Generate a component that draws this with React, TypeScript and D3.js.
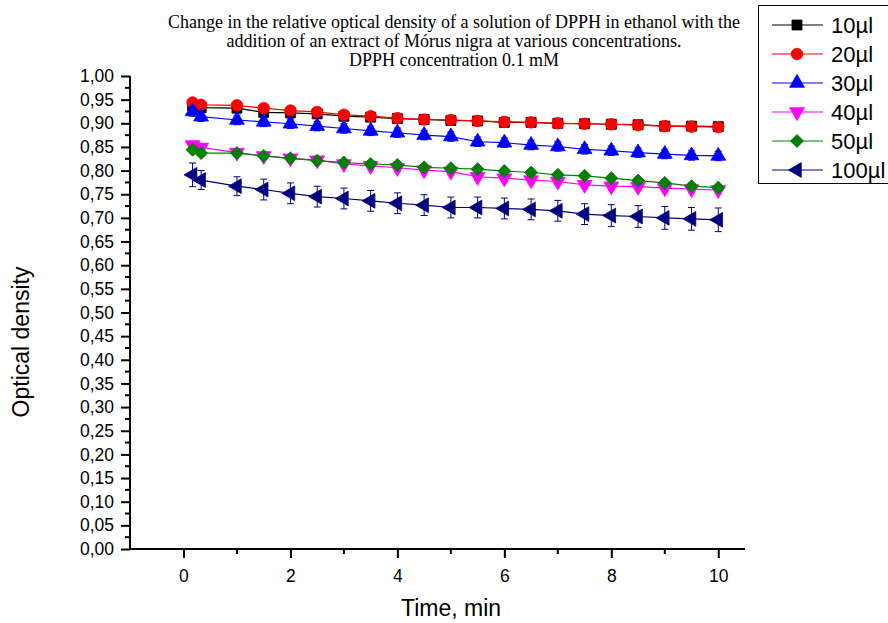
import React, { useEffect, useRef } from "react";
import * as d3 from "d3";

// sampling times, min
const time = [0.17, 0.33, 1, 1.5, 2, 2.5, 3, 3.5, 4, 4.5, 5, 5.5, 6, 6.5, 7, 7.5, 8, 8.5, 9, 9.5, 10];

const od10 = [0.937, 0.933, 0.932, 0.923, 0.922, 0.92, 0.915, 0.913, 0.91, 0.908, 0.906, 0.905, 0.902, 0.902, 0.9, 0.899, 0.898, 0.897, 0.894, 0.894, 0.893];
const od20 = [0.944, 0.939, 0.938, 0.932, 0.927, 0.924, 0.918, 0.915, 0.911, 0.908, 0.907, 0.905, 0.903, 0.902, 0.9, 0.899, 0.898, 0.896, 0.894, 0.893, 0.892];
const od30 = [0.925, 0.914, 0.907, 0.903, 0.899, 0.894, 0.889, 0.884, 0.88, 0.875, 0.872, 0.861, 0.859, 0.854, 0.851, 0.845, 0.842, 0.838, 0.835, 0.832, 0.831];
const od40 = [0.854, 0.849, 0.838, 0.831, 0.826, 0.822, 0.814, 0.81, 0.806, 0.801, 0.798, 0.787, 0.784, 0.78, 0.777, 0.77, 0.767, 0.766, 0.763, 0.761, 0.759];
const od50 = [0.844, 0.837, 0.837, 0.831, 0.826, 0.821, 0.817, 0.814, 0.812, 0.807, 0.805, 0.803, 0.799, 0.796, 0.791, 0.789, 0.784, 0.779, 0.774, 0.767, 0.764];
const od100 = [0.791, 0.78, 0.767, 0.76, 0.752, 0.745, 0.741, 0.736, 0.731, 0.727, 0.722, 0.722, 0.72, 0.718, 0.715, 0.708, 0.705, 0.703, 0.7, 0.698, 0.696];

// standard deviations
const err10 = [0.005, 0.005, 0.005, 0.005, 0.005, 0.005, 0.005, 0.005, 0.005, 0.005, 0.005, 0.005, 0.005, 0.005, 0.005, 0.005, 0.005, 0.005, 0.005, 0.005, 0.005];
const err20 = [0.005, 0.005, 0.005, 0.005, 0.005, 0.005, 0.005, 0.005, 0.005, 0.005, 0.005, 0.005, 0.005, 0.005, 0.005, 0.005, 0.005, 0.005, 0.005, 0.005, 0.005];
const err30 = [0.01, 0.01, 0.01, 0.01, 0.01, 0.01, 0.01, 0.01, 0.01, 0.01, 0.01, 0.01, 0.01, 0.01, 0.01, 0.01, 0.01, 0.01, 0.01, 0.01, 0.01];
const err40 = [0.008, 0.008, 0.008, 0.008, 0.008, 0.008, 0.008, 0.008, 0.008, 0.008, 0.008, 0.008, 0.008, 0.008, 0.008, 0.008, 0.008, 0.008, 0.008, 0.008, 0.008];
const err50 = [0.006, 0.006, 0.006, 0.006, 0.006, 0.006, 0.006, 0.006, 0.006, 0.006, 0.006, 0.006, 0.006, 0.006, 0.006, 0.006, 0.006, 0.006, 0.006, 0.006, 0.006];
const err100 = [0.025, 0.02, 0.02, 0.022, 0.022, 0.022, 0.022, 0.022, 0.022, 0.022, 0.022, 0.022, 0.022, 0.022, 0.022, 0.022, 0.023, 0.023, 0.024, 0.024, 0.025];

const labels = ["10µl", "20µl", "30µl", "40µl", "50µl", "100µl"];
const colors = ["#000000", "#ff0000", "#0000ff", "#ff00ff", "#008000", "#000080"];

const titleLines = [
  "Change in the relative optical density of a solution of DPPH in ethanol with the",
  "addition of an extract of Mórus nigra at various concentrations.",
  "DPPH concentration 0.1 mM",
];

const series = [
  { name: labels[0], values: od10, errors: err10, color: colors[0], shape: d3.symbolSquare, size: 100, rotate: 0 },
  { name: labels[1], values: od20, errors: err20, color: colors[1], shape: d3.symbolCircle, size: 105, rotate: 0 },
  { name: labels[2], values: od30, errors: err30, color: colors[2], shape: d3.symbolTriangle, size: 95, rotate: 0 },
  { name: labels[3], values: od40, errors: err40, color: colors[3], shape: d3.symbolTriangle, size: 95, rotate: 180 },
  { name: labels[4], values: od50, errors: err50, color: colors[4], shape: d3.symbolSquare, size: 85, rotate: 45 },
  { name: labels[5], values: od100, errors: err100, color: colors[5], shape: d3.symbolTriangle, size: 95, rotate: -90 },
];

const W = 888;
const H = 623;
const sans = "Arial, 'Liberation Sans', sans-serif";

export default function App() {
  const ref = useRef<SVGSVGElement>(null);

  useEffect(() => {
    const svg = d3.select(ref.current);
    svg.selectAll("*").remove();

    const x = d3.scaleLinear().domain([-1, 10.5]).range([130, 745]);
    const y = d3.scaleLinear().domain([0, 1]).range([549, 76]);

    // title
    svg.append("g")
      .selectAll("text")
      .data(titleLines)
      .enter()
      .append("text")
      .attr("x", 454)
      .attr("y", (d, i) => 28 + i * 19)
      .attr("text-anchor", "middle")
      .style("font-family", "'Times New Roman', 'Liberation Serif', serif")
      .style("font-size", "18px")
      .text(d => d);

    // y axis
    const yTicks = d3.range(0, 21).map(i => i * 0.05);
    const yMinor = d3.range(0, 20).map(i => i * 0.05 + 0.025);
    const yAxis = svg.append("g").attr("transform", "translate(130,0)");
    yAxis.call(
      d3.axisLeft(y)
        .tickValues(yTicks)
        .tickSize(9)
        .tickPadding(7)
        .tickFormat(d => d3.format(".2f")(d as number).replace(".", ","))
    );
    yAxis.selectAll("text").style("font-family", sans).style("font-size", "17.5px").attr("fill", "#000");
    yAxis.selectAll("line").attr("stroke-width", 2);
    yAxis.select(".domain").attr("stroke-width", 2).attr("d", `M0,${y(1)}V${y(0)}`);
    yAxis.selectAll(".minor")
      .data(yMinor)
      .enter()
      .append("line")
      .attr("class", "minor")
      .attr("x1", -5)
      .attr("x2", 0)
      .attr("y1", d => y(d))
      .attr("y2", d => y(d))
      .attr("stroke", "#000")
      .attr("stroke-width", 2);

    // x axis
    const xAxis = svg.append("g").attr("transform", "translate(0,549)");
    xAxis.call(
      d3.axisBottom(x)
        .tickValues([0, 2, 4, 6, 8, 10])
        .tickSize(9)
        .tickPadding(12)
        .tickFormat(d => String(d))
    );
    xAxis.selectAll("text").style("font-family", sans).style("font-size", "17.5px").attr("fill", "#000");
    xAxis.selectAll("line").attr("stroke-width", 2);
    xAxis.select(".domain").attr("stroke-width", 2).attr("d", `M${x(-1)},0H${x(10.5)}`);
    xAxis.selectAll(".minor")
      .data([1, 3, 5, 7, 9])
      .enter()
      .append("line")
      .attr("class", "minor")
      .attr("x1", d => x(d))
      .attr("x2", d => x(d))
      .attr("y1", 0)
      .attr("y2", 5)
      .attr("stroke", "#000")
      .attr("stroke-width", 2);

    // axis labels
    svg.append("text")
      .attr("x", 451)
      .attr("y", 616)
      .attr("text-anchor", "middle")
      .style("font-family", sans)
      .style("font-size", "23px")
      .text("Time, min");

    svg.append("text")
      .attr("transform", "translate(29,342) rotate(-90)")
      .attr("text-anchor", "middle")
      .style("font-family", sans)
      .style("font-size", "23px")
      .text("Optical density");

    // series
    const line = d3.line<number>()
      .x((d, i) => x(time[i]))
      .y(d => y(d));

    series.forEach(s => {
      const g = svg.append("g");
      g.append("path")
        .datum(s.values)
        .attr("d", line)
        .attr("fill", "none")
        .attr("stroke", s.color)
        .attr("stroke-width", 1.2);

      const eb = g.selectAll(".err")
        .data(s.values)
        .enter()
        .append("g")
        .attr("stroke", s.color)
        .attr("stroke-width", 1);
      eb.append("line")
        .attr("x1", (d, i) => x(time[i]))
        .attr("x2", (d, i) => x(time[i]))
        .attr("y1", (d, i) => y(d - s.errors[i]))
        .attr("y2", (d, i) => y(d + s.errors[i]));
      [1, -1].forEach(sign => {
        eb.append("line")
          .attr("x1", (d, i) => x(time[i]) - 3.5)
          .attr("x2", (d, i) => x(time[i]) + 3.5)
          .attr("y1", (d, i) => y(d + sign * s.errors[i]))
          .attr("y2", (d, i) => y(d + sign * s.errors[i]));
      });

      g.selectAll(".mark")
        .data(s.values)
        .enter()
        .append("path")
        .attr("d", d3.symbol().type(s.shape).size(s.size))
        .attr("transform", (d, i) => `translate(${x(time[i])},${y(d)}) rotate(${s.rotate})`)
        .attr("fill", s.color)
        .attr("stroke", s.color)
        .attr("stroke-width", 0.8);
    });

    // legend
    const legend = svg.append("g");
    legend.append("rect")
      .attr("x", 758.5)
      .attr("y", 5.5)
      .attr("width", 150)
      .attr("height", 178)
      .attr("fill", "#fff")
      .attr("stroke", "#000")
      .attr("stroke-width", 1);

    series.forEach((s, i) => {
      const cy = 25 + i * 29;
      legend.append("line")
        .attr("x1", 772)
        .attr("x2", 823)
        .attr("y1", cy)
        .attr("y2", cy)
        .attr("stroke", s.color)
        .attr("stroke-width", 1.2);
      legend.append("path")
        .attr("d", d3.symbol().type(s.shape).size(s.size)())
        .attr("transform", `translate(797,${cy}) rotate(${s.rotate})`)
        .attr("fill", s.color)
        .attr("stroke", s.color)
        .attr("stroke-width", 0.8);
      legend.append("text")
        .attr("x", 831)
        .attr("y", cy + 8)
        .style("font-family", sans)
        .style("font-size", "22px")
        .text(s.name);
    });
  }, []);

  return (
    <svg
      ref={ref}
      width={W}
      height={H}
      style={{ position: "absolute", left: 0, top: 0, background: "#fff" }}
    />
  );
}
